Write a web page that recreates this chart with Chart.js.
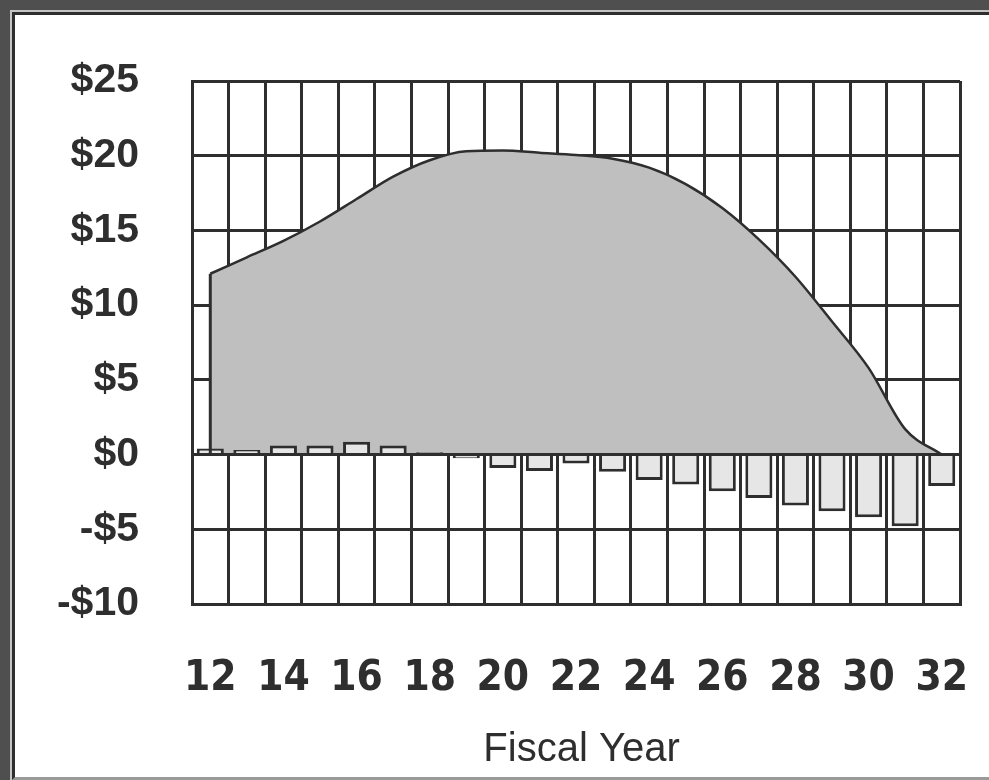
<!DOCTYPE html>
<html>
<head>
<meta charset="utf-8">
<script src="https://cdn.jsdelivr.net/npm/chart.js@4.4.1/dist/chart.umd.min.js"></script>
<style>
  html, body { margin: 0; padding: 0; }
  body { width: 989px; height: 780px; background: #4f4f4f; position: relative; overflow: hidden; }
  .edge { position: absolute; left: 10px; top: 10px; width: 979px; height: 770px; background: #c4c4c4; }
  .panel { position: absolute; left: 12px; top: 12px; width: 974px; height: 762px;
           background: #fff; border-top: 3px solid #2e2e2e; border-left: 3px solid #2e2e2e;
           border-bottom: 3px solid #9a9a9a; }
  #chart { position: absolute; left: 0; top: 0; }
</style>
</head>
<body>
<div class="edge"></div>
<div class="panel"></div>
<canvas id="chart" width="989" height="780"></canvas>
<script>
// Fiscal years on the category axis
const years = [12, 13, 14, 15, 16, 17, 18, 19, 20, 21, 22, 23, 24, 25, 26, 27, 28, 29, 30, 31, 32];

// Cumulative balance ($) drawn as the shaded area
const balance = [12.1, 13.2, 14.3, 15.6, 17.1, 18.6, 19.7, 20.3, 20.35, 20.2, 20.05,
                 19.8, 19.2, 18.1, 16.5, 14.4, 11.9, 8.9, 5.8, 1.7, 0];

// Annual surplus / deficit ($) drawn as bars
const annual = [0.4, 0.3, 0.6, 0.6, 0.85, 0.6, 0.15, -0.25, -0.9, -1.1, -0.6,
                -1.15, -1.7, -2.0, -2.45, -2.9, -3.4, -3.8, -4.2, -4.8, -2.1];

// Value axis range
const yMin = -10, yMax = 25, yStep = 5;

const ink = '#2e2e2e';

// Redraws the zero line and the closing left edge of the shaded area on top of the data
const areaEdges = {
  id: 'areaEdges',
  afterDatasetsDraw(chart) {
    const { ctx, chartArea, scales } = chart;
    const y0 = scales.y.getPixelForValue(0);
    const meta = chart.getDatasetMeta(1);
    const first = meta.data[0];
    ctx.save();
    ctx.strokeStyle = ink;
    ctx.lineWidth = 3;
    ctx.beginPath();
    ctx.moveTo(chartArea.left, y0);
    ctx.lineTo(chartArea.right, y0);
    ctx.stroke();
    ctx.beginPath();
    ctx.moveTo(first.x, y0);
    ctx.lineTo(first.x, first.y);
    ctx.stroke();
    ctx.restore();
  }
};

new Chart(document.getElementById('chart'), {
  type: 'bar',
  data: {
    labels: years,
    datasets: [
      {
        type: 'bar',
        label: 'Annual',
        data: annual,
        backgroundColor: '#e6e6e6',
        borderColor: ink,
        borderWidth: 3,
        categoryPercentage: 1,
        barPercentage: 0.74,
        order: 0
      },
      {
        type: 'line',
        label: 'Balance',
        data: balance,
        fill: 'origin',
        backgroundColor: '#bfbfbf',
        borderColor: ink,
        borderWidth: 2.5,
        cubicInterpolationMode: 'monotone',
        pointRadius: 0,
        order: 1
      }
    ]
  },
  options: {
    responsive: false,
    animation: false,
    devicePixelRatio: 1,
    layout: { padding: { left: 0, right: 29, top: 81, bottom: 0 } },
    plugins: {
      legend: { display: false },
      tooltip: { enabled: false }
    },
    scales: {
      x: {
        offset: true,
        afterFit(scale) {
          scale.height = 176;
          scale.paddingLeft = 0;
          scale.paddingRight = 0;
        },
        grid: { offset: true, color: ink, lineWidth: 3, drawTicks: false },
        border: { color: ink, width: 3 },
        ticks: {
          autoSkip: false,
          maxRotation: 0,
          padding: 50,
          color: ink,
          font: { family: "'DejaVu Sans Condensed', 'DejaVu Sans', sans-serif", size: 42, weight: 'bold' },
          callback(value, index) { return index % 2 === 0 ? String(years[index]) : ''; }
        },
        title: {
          display: true,
          text: ' Fiscal Year',
          color: ink,
          padding: { top: 0, bottom: 6 },
          font: { family: "'Liberation Sans', Arial, sans-serif", size: 40, weight: 'normal' }
        }
      },
      y: {
        min: yMin,
        max: yMax,
        afterFit(scale) { scale.width = 192; },
        grid: { color: ink, lineWidth: 3, drawTicks: false },
        border: { color: ink, width: 3 },
        ticks: {
          stepSize: yStep,
          padding: 53,
          color: ink,
          font: { family: "'Liberation Sans', Arial, sans-serif", size: 41, weight: 'bold' },
          callback(v) { return (v < 0 ? '-$' : '$') + Math.abs(v); }
        }
      }
    }
  },
  plugins: [areaEdges]
});
</script>
</body>
</html>
